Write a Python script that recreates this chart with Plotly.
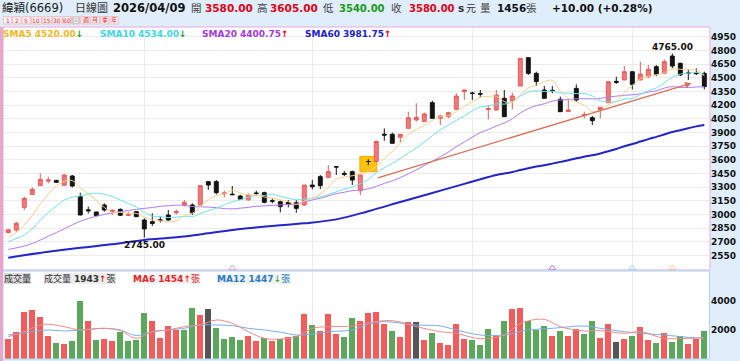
import plotly.graph_objects as go

W, H = 740, 361
FONT = "DejaVu Sans, Noto Sans CJK TC, sans-serif"

# ---------------- data ----------------
idx = list(range(88))
opens = [2800, 2828, 3077, 3220, 3315, 3365, 3373, 3319, 3421, 3194,
         3050, 3026, 3103, 3030, 3055, 2990, 3030, 2938, 2920, 2940,
         2993, 3018, 3103, 3103, 3103, 3359, 3359, 3226, 3222, 3201,
         3160, 3235, 3238, 3150, 3139, 3132, 3128, 3103, 3322, 3414,
         3406, 3523, 3450, 3469, 3260, 3580, 3580, 3880, 3879, 3846,
         3945, 4036, 4018, 4226, 4054, 4073, 4153, 4347, 4332, 4325,
         4150, 4145, 4274, 4244, 4409, 4720, 4548, 4365, 4362, 4263,
         4130, 4383, 4085, 4061, 4146, 4226, 4460, 4475, 4566, 4475,
         4511, 4621, 4548, 4738, 4658, 4552, 4552, 4548]
highs = [2840, 2920, 3194, 3297, 3450, 3414, 3380, 3440, 3432, 3238,
         3085, 3030, 3121, 3055, 3066, 3030, 3035, 2956, 3011, 2975,
         3048, 3055, 3158, 3121, 3315, 3366, 3377, 3260, 3311, 3215,
         3230, 3260, 3250, 3176, 3150, 3157, 3157, 3322, 3377, 3432,
         3541, 3527, 3476, 3480, 3432, 3605, 3810, 3944, 3897, 3879,
         4127, 4219, 4117, 4248, 4091, 4127, 4328, 4372, 4347, 4365,
         4200, 4365, 4365, 4336, 4713, 4724, 4566, 4409, 4409, 4292,
         4274, 4427, 4127, 4080, 4175, 4456, 4511, 4628, 4566, 4676,
         4639, 4639, 4701, 4765, 4665, 4592, 4603, 4566]
lows = [2790, 2810, 3048, 3213, 3315, 3340, 3345, 3315, 3297, 2990,
        3010, 2980, 3030, 2993, 2982, 2985, 2970, 2745, 2873, 2910,
        2930, 3000, 3085, 2993, 3100, 3268, 3220, 3187, 3212, 3160,
        3150, 3212, 3121, 3121, 3022, 3077, 3018, 3092, 3275, 3278,
        3406, 3432, 3421, 3322, 3212, 3540, 3570, 3809, 3780, 3787,
        3945, 4018, 4018, 4054, 3981, 4054, 4146, 4255, 4255, 4285,
        4043, 4145, 4072, 4153, 4409, 4530, 4409, 4274, 4328, 4127,
        4127, 4237, 4054, 3981, 4054, 4226, 4431, 4475, 4372, 4475,
        4493, 4519, 4548, 4603, 4519, 4475, 4530, 4372]
closes = [2830, 2902, 3176, 3275, 3384, 3378, 3352, 3432, 3311, 2993,
          3040, 2986, 3048, 3045, 2990, 2995, 2975, 2840, 2900, 2935,
          2938, 3030, 3132, 3018, 3315, 3322, 3238, 3235, 3216, 3165,
          3212, 3230, 3132, 3145, 3085, 3110, 3066, 3322, 3304, 3315,
          3469, 3520, 3440, 3377, 3432, 3580, 3800, 3870, 3780, 3879,
          4061, 4065, 4102, 4054, 4080, 4116, 4299, 4365, 4328, 4320,
          4160, 4310, 4072, 4299, 4713, 4548, 4457, 4274, 4358, 4127,
          4145, 4255, 4095, 4028, 4175, 4456, 4450, 4566, 4427, 4540,
          4592, 4537, 4676, 4628, 4530, 4548, 4545, 4402]
volumes = [1357, 1886, 3266, 3381, 2898, 1587, 1104, 1012, 1265, 3979,
           2622, 1334, 1403, 1242, 1840, 1219, 1334, 3151, 2599, 1449,
           2300, 2001, 2024, 3496, 3059, 3450, 2116, 1357, 1541, 1311,
           1610, 1242, 1449, 1265, 1380, 1495, 1610, 3128, 2323, 1955,
           3082, 1725, 1518, 2806, 2645, 3197, 3220, 2415, 1932, 1541,
           2576, 2553, 1311, 1817, 1127, 966, 2415, 1380, 1288, 966,
           2093, 1587, 2622, 3450, 3542, 2622, 1978, 2277, 1587, 1909,
           1610, 2070, 1725, 2599, 1449, 2438, 1196, 1403, 1587, 2185,
           1311, 1104, 1794, 1173, 1610, 1012, 1380, 1943]
# 1 = up day, -1 = down day, 0 = unchanged
vol_dir = [1, 1, 1, 1, 1, 1, -1, 1, -1, -1,
           1, -1, 1, 1, -1, -1, -1, -1, 1, 1,
           1, 1, -1, -1, 1, 0, -1, -1, -1, -1,
           1, 1, -1, 1, -1, 1, -1, 1, -1, 1,
           1, 1, -1, -1, 1, 1, 1, 1, -1, 1,
           1, 0, 1, -1, 1, 1, 1, 1, -1, -1,
           -1, 1, -1, 1, 1, -1, -1, -1, 1, -1,
           1, 1, -1, -1, 1, 1, 0, 1, -1, 1,
           1, -1, 1, -1, -1, 1, 1, -1]

sma5 = [2748, 2800, 2880, 2990, 3113, 3223, 3313, 3364, 3371, 3293,
        3226, 3152, 3076, 3022, 3022, 3013, 3011, 2969, 2940, 2929,
        2918, 2929, 2987, 3011, 3087, 3163, 3205, 3226, 3265, 3235,
        3213, 3212, 3191, 3177, 3161, 3140, 3108, 3146, 3177, 3223,
        3295, 3386, 3410, 3424, 3448, 3470, 3526, 3612, 3692, 3782,
        3878, 3931, 3977, 4032, 4072, 4083, 4130, 4183, 4238, 4286,
        4294, 4297, 4238, 4232, 4311, 4388, 4418, 4458, 4470, 4353,
        4272, 4232, 4196, 4130, 4140, 4202, 4241, 4335, 4415, 4488,
        4515, 4532, 4554, 4595, 4593, 4584, 4585, 4520]
sma10 = [2700, 2735, 2774, 2840, 2938, 3020, 3090, 3158, 3190, 3203,
         3224, 3233, 3220, 3197, 3158, 3119, 3082, 3022, 2981, 2975,
         2965, 2970, 2978, 2975, 3008, 3041, 3067, 3106, 3138, 3161,
         3188, 3208, 3208, 3221, 3198, 3177, 3160, 3168, 3177, 3192,
         3218, 3247, 3278, 3301, 3336, 3383, 3456, 3511, 3558, 3615,
         3674, 3728, 3795, 3862, 3927, 3981, 4031, 4080, 4135, 4179,
         4189, 4213, 4210, 4235, 4298, 4341, 4357, 4348, 4351, 4332,
         4330, 4325, 4327, 4300, 4246, 4237, 4236, 4266, 4272, 4314,
         4358, 4387, 4445, 4505, 4540, 4549, 4559, 4534]
sma20 = [2615, 2632, 2652, 2680, 2718, 2760, 2800, 2842, 2885, 2925,
         2955, 2980, 3000, 3016, 3030, 3043, 3055, 3066, 3075, 3089,
         3095, 3101, 3099, 3086, 3083, 3080, 3074, 3064, 3060, 3068,
         3077, 3089, 3093, 3098, 3103, 3109, 3113, 3137, 3158, 3177,
         3203, 3228, 3243, 3261, 3267, 3280, 3308, 3340, 3368, 3403,
         3446, 3488, 3536, 3582, 3631, 3682, 3743, 3795, 3847, 3897,
         3931, 3971, 4003, 4049, 4113, 4161, 4194, 4214, 4243, 4255,
         4260, 4269, 4269, 4267, 4272, 4289, 4297, 4307, 4312, 4323,
         4344, 4356, 4386, 4402, 4393, 4393, 4398, 4401]
sma60_x = [0, 5, 9, 13, 17, 21, 25, 29, 33, 37, 41, 45, 49, 53, 57,
           60, 61, 62, 63, 64, 65, 66, 67, 68, 69, 70, 71, 72, 73, 74,
           75, 76, 77, 78, 79, 80, 81, 82, 83, 84, 85, 86, 87]
sma60 = [2525, 2590, 2634, 2671, 2719, 2748, 2792, 2840, 2872, 2902, 2945, 3035, 3135, 3235, 3335,
         3410, 3433, 3448, 3465, 3487, 3507, 3525, 3539, 3557, 3576, 3594, 3615, 3633, 3649, 3669,
         3693, 3718, 3747, 3772, 3799, 3826, 3851, 3877, 3904, 3924, 3945, 3966, 3982]

ma6_x = [0, 2, 4, 5, 7, 9, 12, 14, 16, 18, 20, 22, 24, 26, 28, 30, 32, 34, 36, 38,
         40, 43, 45, 48, 51, 54, 56, 59, 62, 64, 67, 69, 72, 74, 77, 79, 82, 85, 87]
ma6 = [1541, 1886, 2346, 2396, 2231, 2001, 2116, 1955, 1426, 1886, 2001, 2231, 2346, 2691, 2461,
       1886, 1426, 1380, 1541, 2116, 2231, 2277, 2500, 2645, 2231, 1886, 1771, 1400, 1656, 2450,
       2737, 2231, 1932, 1955, 1771, 1886, 1426, 1426, 1454]
ma12_x = [0, 3, 5, 7, 9, 12, 14, 16, 18, 20, 22, 24, 26, 28, 30, 32, 34, 36, 38, 40,
          43, 45, 47, 51, 54, 56, 59, 62, 65, 68, 72, 74, 77, 79, 82, 85, 87]
ma12 = [1656, 1886, 2001, 1932, 2001, 2116, 2001, 1620, 1886, 2001, 2116, 2346, 2346, 2300, 2116,
        2001, 1850, 1656, 1725, 1886, 2001, 2400, 2576, 2346, 2277, 2001, 1656, 1656, 2001, 2116,
        2277, 2116, 1886, 1771, 1656, 1495, 1447]

price_ticks = list(range(2550, 4951, 150))
vol_ticks = [2000, 4000]
month_grid = [17, 38, 58, 78]
highlight_idx = 45
trend_x = [46, 85.4]
trend_y = [3396, 4440]
deduct_idx = [28, 68, 78, 83]
deduct_colors = ["#c7a3dc", "#b07ce0", "#8fe3f0", "#f2d27a"]
max_idx, min_idx = 83, 17

# ---------------- figure ----------------
def px(x):
    return x / W

def py(y):
    return 1 - y / H

Y_RANGE = [2389.5, 5056.5]
X_RANGE = [-0.66, 87.71]

fig = go.Figure()

main_o = [None if i == highlight_idx else v for i, v in enumerate(opens)]
main_h = [None if i == highlight_idx else v for i, v in enumerate(highs)]
main_l = [None if i == highlight_idx else v for i, v in enumerate(lows)]
main_c = [None if i == highlight_idx else v for i, v in enumerate(closes)]

# highlight box behind selected candle
fig.add_shape(type="rect", xref="x", yref="y",
              x0=highlight_idx - 1.05, x1=highlight_idx + 1.05,
              y0=lows[highlight_idx] - 72, y1=highs[highlight_idx] + 32,
              fillcolor="#ffc20e", line=dict(color="#f0a800", width=1), layer="between")

# moving averages
fig.add_trace(go.Scatter(x=sma60_x, y=sma60, mode="lines", line=dict(color="#2424c8", width=2, shape="spline"),
                         hoverinfo="skip", showlegend=False))
fig.add_trace(go.Scatter(x=idx, y=sma20, mode="lines", line=dict(color="#b27af0", width=1, shape="spline"),
                         hoverinfo="skip", showlegend=False))
fig.add_trace(go.Scatter(x=idx, y=sma10, mode="lines", line=dict(color="#6fe3ea", width=1, shape="spline"),
                         hoverinfo="skip", showlegend=False))
fig.add_trace(go.Scatter(x=idx, y=sma5, mode="lines", line=dict(color="#f6cf86", width=1, shape="spline"),
                         hoverinfo="skip", showlegend=False))

fig.add_trace(go.Candlestick(
    x=idx, open=main_o, high=main_h, low=main_l, close=main_c,
    increasing=dict(fillcolor="#f57878", line=dict(color="#e85a5a", width=1)),
    decreasing=dict(fillcolor="#141414", line=dict(color="#141414", width=1)),
    whiskerwidth=0, hoverinfo="skip", showlegend=False))
fig.add_trace(go.Candlestick(
    x=[highlight_idx], open=[opens[highlight_idx]], high=[highs[highlight_idx]],
    low=[lows[highlight_idx]], close=[closes[highlight_idx]],
    increasing=dict(fillcolor="#141414", line=dict(color="#141414", width=1)),
    decreasing=dict(fillcolor="#141414", line=dict(color="#141414", width=1)),
    whiskerwidth=0, hoverinfo="skip", showlegend=False))

# deduction markers on the bottom edge of the price pane
fig.add_trace(go.Scatter(x=deduct_idx, y=[Y_RANGE[0] + 22] * len(deduct_idx), mode="markers",
                         marker=dict(symbol="triangle-up-open", size=6, color=deduct_colors, line=dict(width=1)),
                         cliponaxis=False, hoverinfo="skip", showlegend=False))

# volume
vcolor = {1: "#f45c5c", -1: "#5aa85a", 0: "#555555"}
fig.add_trace(go.Bar(x=idx, y=volumes, marker=dict(color=[vcolor[d] for d in vol_dir], line=dict(width=0)),
                     width=0.74, xaxis="x2", yaxis="y2", hoverinfo="skip", showlegend=False))
fig.add_trace(go.Scatter(x=ma12_x, y=ma12, mode="lines", line=dict(color="#7aaee2", width=1, shape="spline"),
                         xaxis="x2", yaxis="y2", hoverinfo="skip", showlegend=False))
fig.add_trace(go.Scatter(x=ma6_x, y=ma6, mode="lines", line=dict(color="#f08a8a", width=1, shape="spline"),
                         xaxis="x2", yaxis="y2", hoverinfo="skip", showlegend=False))

tickfont = dict(family=FONT, size=9, color="#111111", weight="bold")
grid = "#ececec"
xdom = [px(3), px(710)]
fig.update_layout(
    width=W, height=H, autosize=False,
    margin=dict(l=0, r=0, t=0, b=0, pad=0),
    paper_bgcolor="#dfeefa", plot_bgcolor="#ffffff",
    showlegend=False, bargap=0,
    xaxis=dict(domain=xdom, range=X_RANGE, anchor="y", tickvals=month_grid, showticklabels=False,
               showgrid=True, gridcolor=grid, gridwidth=1, zeroline=False, ticks="",
               rangeslider=dict(visible=False), fixedrange=True, showline=False),
    yaxis=dict(domain=[py(270), py(27)], range=Y_RANGE, anchor="x", side="right",
               tickvals=price_ticks, ticktext=[str(t) for t in price_ticks], tickfont=tickfont,
               showgrid=True, gridcolor=grid, gridwidth=1, zeroline=False, ticks="", fixedrange=True),
    xaxis2=dict(domain=xdom, range=X_RANGE, anchor="y2", tickvals=month_grid, showticklabels=False,
                showgrid=True, gridcolor=grid, zeroline=False, ticks="", fixedrange=True),
    yaxis2=dict(domain=[py(359), py(271)], range=[0, 6070], anchor="x2", side="right",
                tickvals=vol_ticks, ticktext=[str(t) for t in vol_ticks], tickfont=tickfont,
                showgrid=False, zeroline=False, ticks="", fixedrange=True),
)

# panel frames
fig.add_shape(type="rect", xref="paper", yref="paper", x0=px(3), x1=px(710), y0=py(270), y1=py(27),
              line=dict(color="#e9a9df", width=1), fillcolor="rgba(0,0,0,0)", layer="above")
fig.add_shape(type="rect", xref="paper", yref="paper", x0=px(3), x1=px(709.5), y0=py(359), y1=py(271),
              line=dict(color="#a9d6f0", width=1), fillcolor="rgba(0,0,0,0)", layer="above")
fig.add_shape(type="rect", xref="paper", yref="paper", x0=0, x1=px(3), y0=0, y1=py(27),
              line=dict(width=0), fillcolor="#e7a6cb", layer="above")

# trend line with arrow
anns = []
anns.append(dict(xref="x", yref="y", axref="x", ayref="y", x=trend_x[1], y=trend_y[1],
                 ax=trend_x[0], ay=trend_y[0], text="", showarrow=True, arrowhead=2, arrowsize=1,
                 arrowwidth=1.3, arrowcolor="#d8705a"))

# extreme labels
anns.append(dict(xref="x", yref="y", x=max_idx, y=highs[max_idx], text="4765.00", showarrow=False,
                 xanchor="center", yanchor="bottom", font=dict(family=FONT, size=9, color="#111", weight="bold")))
anns.append(dict(xref="x", yref="y", x=min_idx, y=lows[min_idx], text="2745.00", showarrow=False,
                 xanchor="center", yanchor="top", font=dict(family=FONT, size=9, color="#111", weight="bold")))


def ann(x, y, text, size=9, color="#111", bold=False, bg=None, xanchor="left"):
    d = dict(xref="paper", yref="paper", x=px(x), y=py(y), text=text, showarrow=False,
             xanchor=xanchor, yanchor="middle", borderpad=0, borderwidth=0,
             font=dict(family=FONT, size=size, color=color, weight="bold" if bold else "normal"))
    if bg:
        d["bgcolor"] = bg
    return d


RED = "#e60012"
GREEN = "#189a18"
# header row
hy = 8
anns += [
    ann(2, hy, "緯穎(6669)", 11.5, "#222"),
    ann(75, hy, "日線圖", 11, "#333"),
    ann(113, hy, "2026/04/09", 11.5, "#111", True),
    ann(196.5, hy, "開", 10.5, "#444", False, None, "center"),
    ann(205, hy, "3580.00", 10.5, RED, True),
    ann(262, hy, "高", 10.5, "#444", False, None, "center"),
    ann(270, hy, "3605.00", 10.5, RED, True),
    ann(328.5, hy, "低", 10.5, "#444", False, None, "center"),
    ann(339, hy, "3540.00", 10, GREEN, True),
    ann(397, hy, "收", 10.5, "#444", False, None, "center"),
    ann(409, hy, "3580.00", 10, RED, True),
    ann(458, hy, "s", 10.5, "#333", True),
    ann(470.5, hy, "元", 10, "#333", False, None, "center"),
    ann(485.5, hy, "量", 10.5, "#444", False, None, "center"),
    ann(497, hy, "1456", 10.5, "#111", True),
    ann(531, hy, "張", 10.5, "#444", False, None, "center"),
    ann(552, hy, "+10.00 (+0.28%)", 10.5, "#111", True),
]

# period buttons
btn_labels = ["1", "2", "5", "10", "15", "30", "60", "日", "週", "月", "季", "年"]
btn_edges = [(3.3, 11.7), (12.7, 21), (22, 30.3), (31.3, 41.3), (42.3, 51.7), (52.7, 62), (63, 70.7),
             (71.3, 80), (81, 90), (91, 99.3), (100.7, 109), (110, 118.3)]
for lab, (a, b) in zip(btn_labels, btn_edges):
    sel = lab == "日"
    fig.add_shape(type="rect", xref="paper", yref="paper", x0=px(a), x1=px(b), y0=py(24), y1=py(16.7),
                  line=dict(color="#efbcc6", width=1), fillcolor="#c9c9c9" if sel else "#fbf4f6", layer="above")
    anns.append(ann((a + b) / 2, 20.4, lab, 6, "#ffffff" if sel else "#d83030", False, None, "center"))

# SMA legend row
sy = 33.5
UP = "<span style='color:#e00000'>↑</span>"
DN = "<span style='color:#18a018'>↓</span>"
anns += [
    ann(3, sy, "SMA5 4520.00" + DN, 9, "#f2b81e", True),
    ann(100, sy, "SMA10 4534.00" + DN, 9, "#3fd6e6", True),
    ann(202, sy, "SMA20 4400.75" + UP, 9, "#a33ae0", True),
    ann(305, sy, "SMA60 3981.75" + UP, 9, "#1c1cd0", True),
]

# volume legend row
vy = 278.5
anns += [
    ann(4, vy, "成交量", 9, "#333", False, "#dadada"),
    ann(44, vy, "成交量 <b>1943</b><span style='color:#e00000'>↑</span>張", 9, "#333", False, "#ececec"),
    ann(133, vy, "<b>MA6 1454</b><span style='color:#e00000'>↑</span>張", 9, "#e82424", False, "#f2f2f2"),
    ann(217, vy, "<b>MA12 1447</b><span style='color:#18a018'>↓</span>張", 9, "#2a7cc6", False, "#f2f2f2"),
]

fig.update_layout(annotations=anns)
fig.write_html("out.html", config={"displayModeBar": False, "staticPlot": True},
               post_script="document.body.style.margin='0';document.body.style.padding='0';"
                           "document.body.style.overflow='hidden';")
